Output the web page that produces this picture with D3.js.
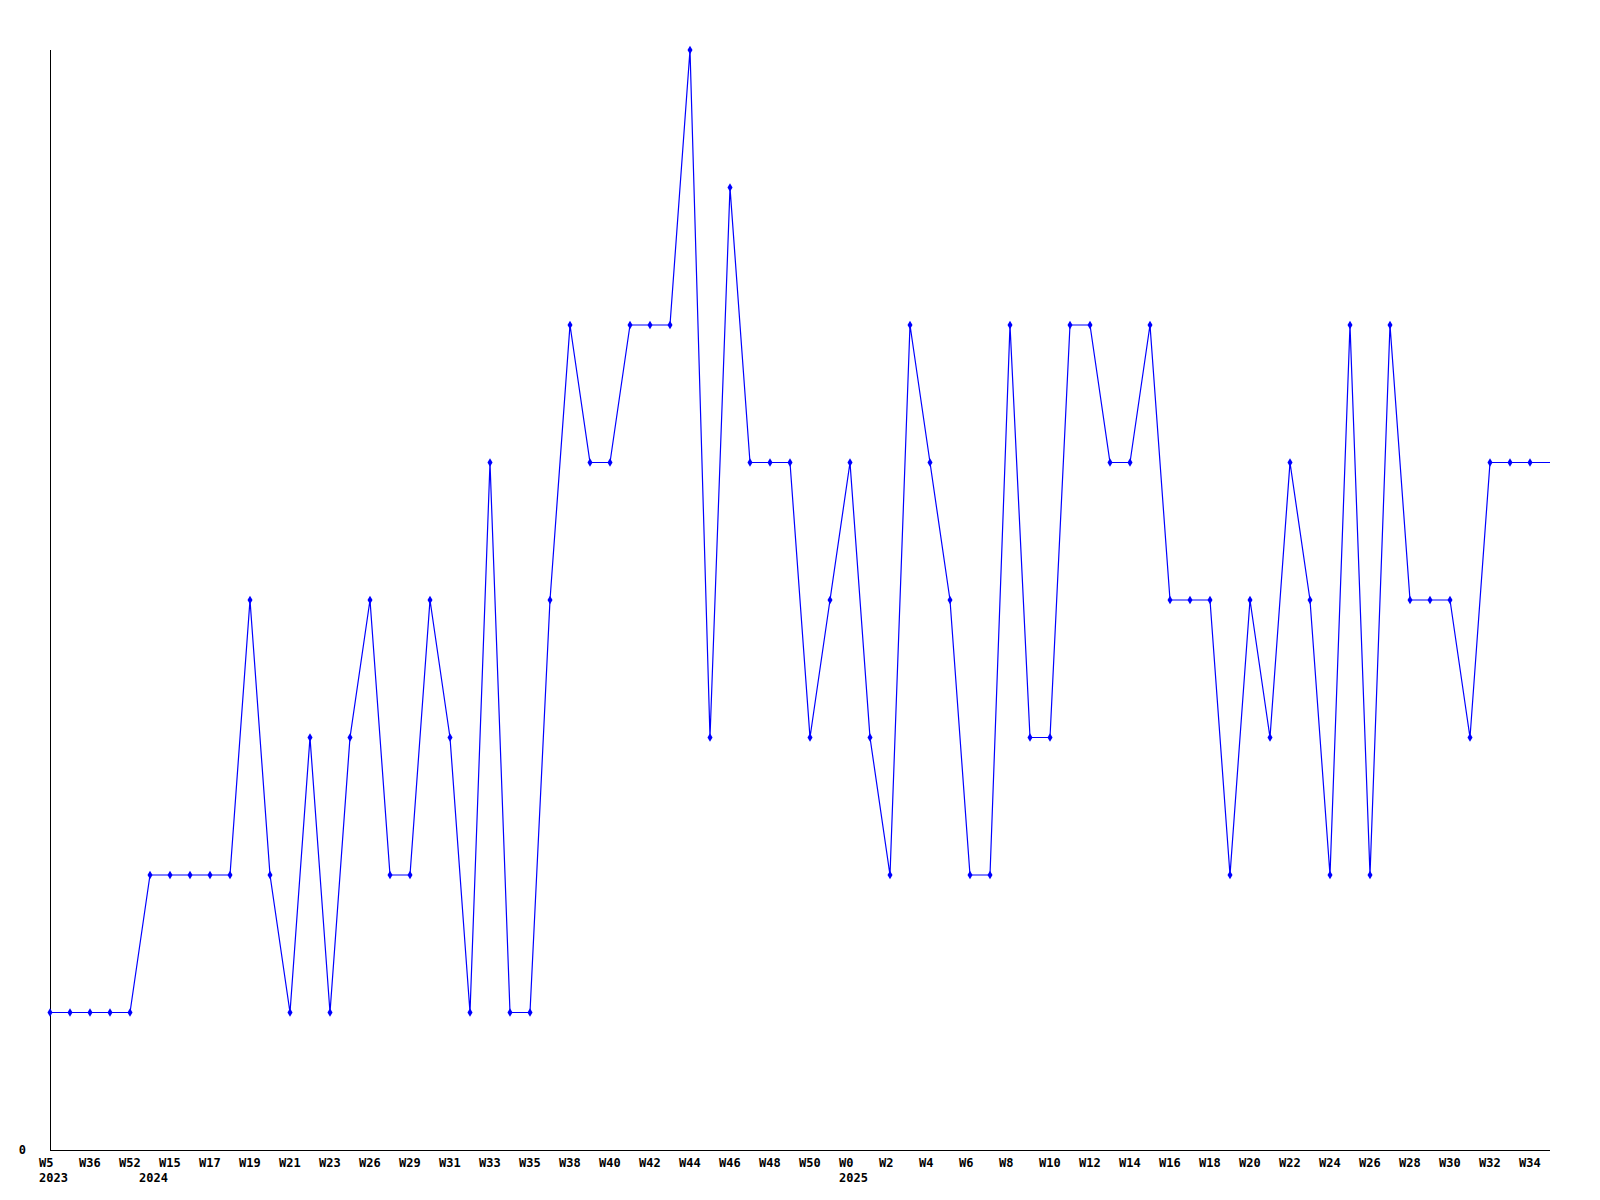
<!DOCTYPE html>
<html>
<head>
<meta charset="utf-8">
<script src="https://cdn.jsdelivr.net/npm/d3@7"></script>
<style>
  html, body { margin: 0; padding: 0; background: #fff; }
  svg { display: block; }
  text { font-family: "DejaVu Sans Mono", "Liberation Mono", monospace; font-weight: bold; font-size: 12px; fill: #000; }
</style>
</head>
<body>
<svg id="chart" width="1600" height="1200"></svg>
<script>
// Week categories (one per data point)
const weeks = [
  "W5","W20","W36","W44","W52","W1","W15","W16","W17","W18",
  "W19","W20","W21","W22","W23","W25","W26","W28","W29","W30",
  "W31","W32","W33","W34","W35","W37","W38","W39","W40","W41",
  "W42","W43","W44","W45","W46","W47","W48","W49","W50","W52",
  "W0","W1","W2","W3","W4","W5","W6","W7","W8","W9",
  "W10","W11","W12","W13","W14","W15","W16","W17","W18","W19",
  "W20","W21","W22","W23","W24","W25","W26","W27","W28","W29",
  "W30","W31","W32","W33","W34","W35"
];
// Values per week
const values = [
  1,1,1,1,1,2,2,2,2,2,
  4,2,1,3,1,3,4,2,2,4,
  3,1,5,1,1,4,6,5,5,6,
  6,6,8,3,7,5,5,5,3,4,
  5,3,2,6,5,4,2,2,6,3,
  3,6,6,5,5,6,4,4,4,2,
  4,3,5,4,2,6,2,6,4,4,
  4,3,5,5,5,5
];
// Year labels: index of the first point of each year
const yearIdx = [0, 5, 40];
const yearLabels = ["2023", "2024", "2025"];
// Y tick labels shown
const yTicks = [0];
const yMax = 8;

const svg = d3.select("#chart");
const mLeft = 50, mRight = 1550, mTop = 50, mBottom = 1150;

const x = d3.scaleLinear().domain([0, weeks.length - 1]).range([mLeft, mRight]);
const y = d3.scaleLinear().domain([0, yMax]).range([mBottom, mTop]);

// Axes lines
svg.append("line").attr("x1", mLeft + 0.5).attr("x2", mLeft + 0.5).attr("y1", mTop).attr("y2", mBottom)
  .attr("stroke", "#000").attr("shape-rendering", "crispEdges");
svg.append("line").attr("x1", mLeft).attr("x2", mRight).attr("y1", mBottom + 0.5).attr("y2", mBottom + 0.5)
  .attr("stroke", "#000").attr("shape-rendering", "crispEdges");

// Y ticks
svg.selectAll(".ylab").data(yTicks).enter().append("text")
  .attr("class", "ylab")
  .attr("x", 26).attr("y", d => y(d) + 4)
  .attr("text-anchor", "end")
  .text(d => d);

// X tick labels: every other week
const labIdx = d3.range(0, weeks.length - 1, 2);
svg.selectAll(".xlab").data(labIdx).enter().append("text")
  .attr("class", "xlab")
  .attr("x", d => x(d) - 11).attr("y", 1167)
  .attr("text-anchor", "start")
  .text(d => weeks[d]);

// Year labels
svg.selectAll(".year").data(yearIdx).enter().append("text")
  .attr("class", "year")
  .attr("x", d => x(d) - 11).attr("y", 1182)
  .attr("text-anchor", "start")
  .text((d, i) => yearLabels[i]);

// Line
const line = d3.line().x((d, i) => x(i)).y(d => y(d));
svg.append("path").datum(values)
  .attr("d", line)
  .attr("fill", "none")
  .attr("stroke", "#0000ff")
  .attr("stroke-width", 1.2);

// Markers (all but the last, partial week)
const sym = d3.symbol().type(d3.symbolDiamond).size(22);
svg.selectAll(".mk").data(values.slice(0, values.length - 1)).enter().append("path")
  .attr("class", "mk")
  .attr("transform", (d, i) => `translate(${x(i)},${y(d)})`)
  .attr("d", sym)
  .attr("fill", "#0000ff");
</script>
</body>
</html>
